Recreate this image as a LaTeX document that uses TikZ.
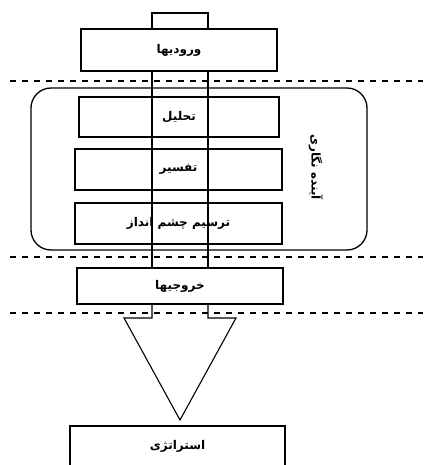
\documentclass[tikz,border=0pt]{standalone}
\usepackage{fontspec}
\newfontfamily\arabicfont[Script=Arabic]{DejaVu Sans}
\TeXXeTstate=1
\newcommand{\fa}[1]{{\arabicfont\bfseries\beginR #1\endR}}
\begin{document}
\begin{tikzpicture}[x=1pt,y=-1pt,
  txt/.style={font=\fontsize{12}{14}\selectfont},
  box/.style={draw,line width=1.1pt,rectangle,inner sep=0pt,txt},
  ln/.style={line width=1.1pt},
  sep/.style={line width=1.1pt,dash pattern=on 6pt off 6pt}]
\useasboundingbox (0,0) rectangle (423,465);
\clip (0,0) rectangle (423,465);
% separators
\coordinate (d1l) at (10,81); \coordinate (d1r) at (423,81);
\coordinate (d2l) at (10,257); \coordinate (d2r) at (423,257);
\coordinate (d3l) at (10,313); \coordinate (d3r) at (423,313);
\draw[sep] (d1l) -- (d1r);
\draw[sep] (d2l) -- (d2r);
\draw[sep] (d3l) -- (d3r);
% foresight frame
\node[draw,line width=1.3pt,rounded corners=20pt,minimum width=336pt,minimum height=162pt,inner sep=0pt] (frame) at (199,169) {};
\node[txt,rotate=-90] (fl) at (316,167) {\fa{آینده نگاری}};
% stub
\node[draw,line width=1.1pt,minimum width=56pt,minimum height=16pt,inner sep=0pt] (stub) at (180,21) {};
% boxes
\node[box,fill=white,minimum width=196pt,minimum height=42pt] (in) at (179,50) {\fa{ورودیها}};
\node[box,minimum width=200pt,minimum height=40pt] (tah) at (179,117) {\fa{تحلیل}};
\node[box,minimum width=207pt,minimum height=41pt] (taf) at (178.5,169.5) {\fa{تفسیر}};
\node[box,minimum width=207pt,minimum height=41pt] (tar) at (178.5,223.5) {\fa{ترسیم چشم انداز}};
\node[box,minimum width=206pt,minimum height=36pt] (out) at (180,286) {\fa{خروجیها}};
\node[box,minimum width=215pt,minimum height=50pt] (str) at (177.5,451) {};
\node[txt] (strl) at (177.5,446) {\fa{استراتژی}};
% channel lines
\coordinate (c1t) at (152,71); \coordinate (c1b) at (152,268);
\coordinate (c2t) at (208,71); \coordinate (c2b) at (208,268);
\draw[ln] (c1t) -- (c1b);
\draw[ln] (c2t) -- (c2b);
% funnel
\coordinate (f1) at (152,304); \coordinate (f2) at (208,304);
\coordinate (tl) at (124,318); \coordinate (tr) at (236,318);
\coordinate (apex) at (180,420);
\draw[ln] (f1) |- (tl) -- (apex) -- (tr) -| (f2);
\end{tikzpicture}
\end{document}
